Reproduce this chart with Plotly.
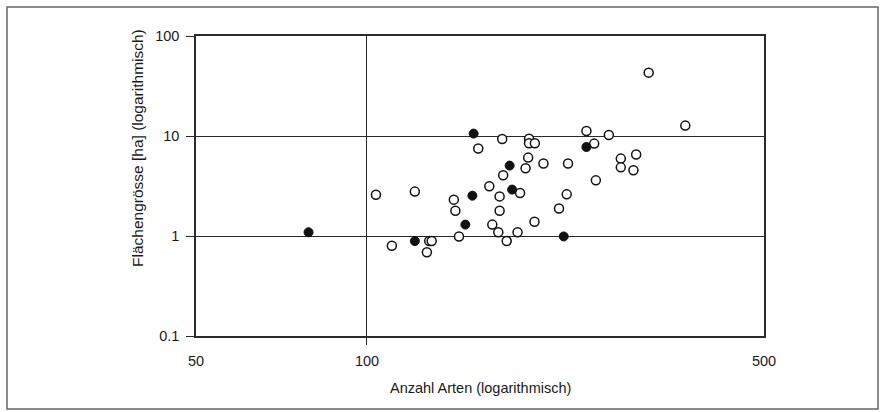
import math
import plotly.graph_objects as go

# Open circles (Anzahl Arten, Flächengrösse ha)
open_arten = [103.7, 121.4, 110.6, 128.7, 130.0, 127.5, 142.2, 143.1, 145.2, 157.0,
              173.0, 192.9, 192.9, 197.5, 192.2, 173.7, 190.2, 204.5, 225.9, 164.2,
              186.0, 171.2, 171.2, 166.2, 170.3, 176.2, 184.1, 197.2, 217.8, 224.7,
              243.4, 251.2, 266.6, 252.9, 279.8, 279.8, 297.8, 294.5, 313.3, 363.4]
open_flaeche = [2.59, 2.78, 0.80, 0.89, 0.89, 0.687, 2.31, 1.79, 0.99, 7.5,
                9.33, 9.4, 8.45, 8.45, 6.08, 4.05, 4.75, 5.3, 5.3, 3.14,
                2.69, 2.49, 1.79, 1.30, 1.09, 0.89, 1.09, 1.39, 1.88, 2.61,
                11.2, 8.39, 10.23, 3.6, 5.94, 4.86, 6.52, 4.54, 43.0, 12.7]

# Filled circles
filled_arten = [78.9, 121.4, 149.0, 153.3, 154.1, 178.3, 180.1, 222.0, 243.4]
filled_flaeche = [1.09, 0.89, 1.30, 2.53, 10.57, 5.06, 2.91, 0.99, 7.76]

x_tickvals = [50, 100, 500]
x_ticktext = ["50", "100", "500"]
y_tickvals = [0.1, 1, 10, 100]
y_ticktext = ["0.1", "1", "10", "100"]

x_title = "Anzahl Arten (logarithmisch)"
y_title = "Flächengrösse [ha] (logarithmisch)"

W, H = 881, 412
L, R, T, B = 196, 117, 36, 76
pw, ph = W - L - R, H - T - B

font = dict(family="Liberation Sans, Arial, sans-serif", size=14.5, color="#1a1a1a")
yfont = dict(family="Liberation Sans, Arial, sans-serif", size=15.5, color="#1a1a1a")
axcol = "#2a2a2a"

fig = go.Figure()
fig.add_trace(go.Scatter(
    x=open_arten, y=open_flaeche, mode="markers",
    marker=dict(symbol="circle", size=9, color="white",
                line=dict(color="#111111", width=1.5)),
    showlegend=False, cliponaxis=False, hoverinfo="skip"))
fig.add_trace(go.Scatter(
    x=filled_arten, y=filled_flaeche, mode="markers",
    marker=dict(symbol="circle", size=9, color="#111111",
                line=dict(color="#111111", width=1)),
    showlegend=False, cliponaxis=False, hoverinfo="skip"))

fig.update_layout(
    width=W, height=H,
    margin=dict(l=L, r=R, t=T, b=B, pad=0),
    paper_bgcolor="white", plot_bgcolor="white",
    font=font,
    xaxis=dict(type="log", range=[math.log10(50), math.log10(500)],
               tickvals=x_tickvals, ticktext=x_ticktext,
               ticks="", showgrid=True, gridcolor=axcol, gridwidth=1.3,
               showline=True, linecolor=axcol, linewidth=1.5, mirror=True,
               zeroline=False, ticklabelstandoff=11,
               minor=dict(tickvals=[100], ticks="outside", ticklen=7,
                          tickcolor=axcol, tickwidth=1.3, showgrid=False),
               tickfont=font),
    yaxis=dict(type="log", range=[-1, 2],
               tickvals=y_tickvals, ticktext=y_ticktext,
               ticks="outside", ticklen=8, tickcolor=axcol, tickwidth=1.3,
               showgrid=True, gridcolor=axcol, gridwidth=1.3,
               showline=True, linecolor=axcol, linewidth=1.5, mirror=True,
               zeroline=False, ticklabelstandoff=4,
               tickfont=font),
)

def px_x(p):
    return (p - L) / pw

def px_y(p):
    return (H - B - p) / ph

fig.add_annotation(text=x_title, xref="paper", yref="paper",
                   x=px_x(480), y=px_y(388), showarrow=False,
                   xanchor="center", yanchor="middle", font=font)
fig.add_annotation(text=y_title, xref="paper", yref="paper",
                   x=px_x(137), y=px_y(148), showarrow=False, textangle=-90,
                   xanchor="center", yanchor="middle", font=yfont)

# outer frame
fig.add_shape(type="rect", xref="paper", yref="paper",
              x0=px_x(7), x1=px_x(878), y0=px_y(409), y1=px_y(7),
              line=dict(color="#666666", width=1.5), fillcolor="rgba(0,0,0,0)",
              layer="below")

fig.write_html("out.html", config={"displayModeBar": False},
               post_script="document.body.style.margin='0';document.body.style.overflow='hidden';")
